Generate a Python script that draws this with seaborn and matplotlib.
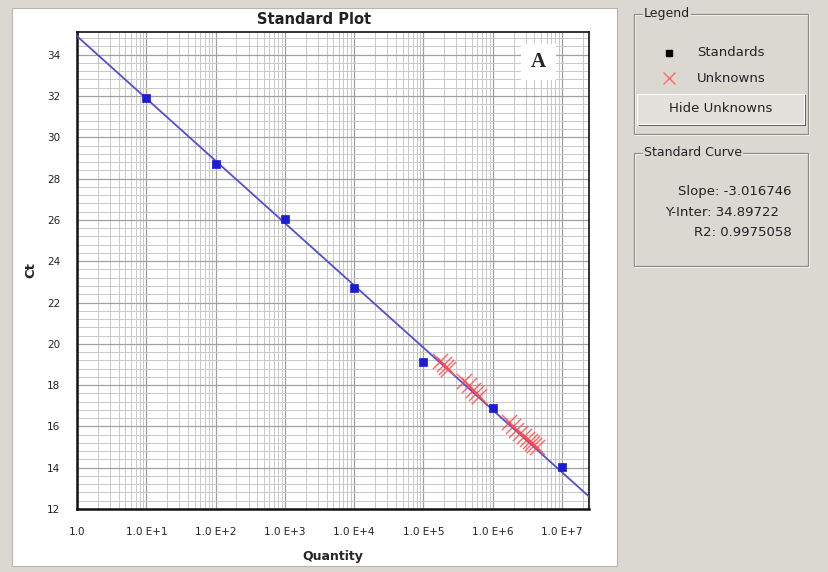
import numpy as np
import pandas as pd
import matplotlib
matplotlib.use("Agg")
import matplotlib.pyplot as plt
from matplotlib.patches import Rectangle
from matplotlib.ticker import FixedLocator, NullFormatter, MultipleLocator
import seaborn as sns

# ---------------- data ----------------
std_quantity = [1e1, 1e2, 1e3, 1e4, 1e5, 1e6, 1e7]
std_ct = [31.9, 28.7, 26.05, 22.7, 19.1, 16.9, 14.05]

unk_quantity = [1.75e5, 1.95e5, 2.1e5, 2.3e5,
                3.9e5, 4.5e5, 5.2e5, 5.8e5, 6.3e5,
                1.7e6, 1.95e6, 2.2e6, 2.5e6, 2.8e6, 3.1e6, 3.4e6, 3.7e6, 4.0e6, 4.4e6]
unk_ct = [19.15, 19.0, 18.9, 18.8,
          18.2, 18.0, 17.75, 17.6, 17.45,
          16.2, 16.0, 15.85, 15.7, 15.55, 15.4, 15.3, 15.2, 15.1, 15.0]

slope = -3.016746
y_inter = 34.89722
r2 = 0.9975058

x_tick_values = [1e0, 1e1, 1e2, 1e3, 1e4, 1e5, 1e6, 1e7]
x_tick_labels = ["1.0", "1.0 E+1", "1.0 E+2", "1.0 E+3", "1.0 E+4",
                 "1.0 E+5", "1.0 E+6", "1.0 E+7"]
y_tick_values = [12, 14, 16, 18, 20, 22, 24, 26, 28, 30, 32, 34]

# ---------------- figure ----------------
sns.set_style("white")
plt.rcParams['font.family'] = ['DejaVu Sans']

W, H = 829, 572
BG = "#dbd8d2"
fig = plt.figure(figsize=(W / 100, H / 100), dpi=100, facecolor=BG)


def fx(px):
    return px / W


def fy(py):
    return 1 - py / H


# white plot panel (behind axes)
fig.patches.append(Rectangle((fx(12), fy(566)), fx(617) - fx(12), fy(8) - fy(566),
                             transform=fig.transFigure, facecolor="white",
                             edgecolor="#b8b5ae", linewidth=0.8, zorder=-5))

ax = fig.add_axes([fx(77), fy(509), fx(589) - fx(77), fy(32) - fy(509)])
ax.set_zorder(1)
ax.set_facecolor("white")

xmin, xmax = 1.0, 10 ** 7.39
ymin, ymax = 12.0, 35.1

# grid
ax.set_xscale("log")
ax.set_xlim(xmin, xmax)
ax.set_ylim(ymin, ymax)
minor_x = [m * 10 ** e for e in range(0, 8) for m in range(2, 10) if m * 10 ** e < xmax]
ax.xaxis.set_major_locator(FixedLocator(x_tick_values))
ax.xaxis.set_minor_locator(FixedLocator(minor_x))
ax.xaxis.set_minor_formatter(NullFormatter())
ax.set_xticklabels(x_tick_labels)
ax.yaxis.set_major_locator(FixedLocator(y_tick_values))
ax.yaxis.set_minor_locator(MultipleLocator(0.4))
ax.grid(True, which="major", color="#a0a0a0", linewidth=0.9)
ax.grid(True, which="minor", color="#c8c8c8", linewidth=0.7)
ax.set_axisbelow(True)

# fit line
fit_x = np.logspace(np.log10(xmin), np.log10(xmax), 50)
fit_df = pd.DataFrame({"Quantity": fit_x, "Ct": y_inter + slope * np.log10(fit_x)})
sns.lineplot(data=fit_df, x="Quantity", y="Ct", ax=ax, color="#5050d0",
             linewidth=1.3, zorder=3)

# standards
std_df = pd.DataFrame({"Quantity": std_quantity, "Ct": std_ct})
sns.scatterplot(data=std_df, x="Quantity", y="Ct", ax=ax, marker="s", s=30,
                color="#1c1cd0", edgecolor="#1c1cd0", linewidth=0.5, zorder=5)

# unknowns
unk_df = pd.DataFrame({"Quantity": unk_quantity, "Ct": unk_ct})
sns.scatterplot(data=unk_df, x="Quantity", y="Ct", ax=ax, marker="x", s=120,
                color="#ff4a4a", linewidth=1.0, alpha=0.85, zorder=4)

ax.set_xlabel("Quantity", fontsize=9, fontweight="bold", labelpad=9)
ax.set_ylabel("Ct", fontsize=9.5, fontweight="bold", labelpad=7)
ax.set_title("")
fig.text(fx(314), fy(20), "Standard Plot", fontsize=10.5, fontweight="bold",
         ha="center", va="center", color="#222222")

ax.tick_params(axis="both", which="major", labelsize=7.5, colors="#222222",
               direction="out", length=4, width=0.8)
ax.tick_params(axis="x", which="major", pad=9)
ax.tick_params(axis="y", which="major", pad=8)
ax.tick_params(axis="x", which="minor", direction="out", length=3, width=0.5,
               color="#aaaaaa")
ax.tick_params(axis="y", which="minor", length=0)

for side in ["left", "bottom"]:
    ax.spines[side].set_linewidth(1.8)
    ax.spines[side].set_color("#111111")
for side in ["top", "right"]:
    ax.spines[side].set_linewidth(1.2)
    ax.spines[side].set_color("#111111")

# "A" label
fig.patches.append(Rectangle((fx(521), fy(80)), fx(556) - fx(521), fy(44) - fy(80),
                             transform=fig.transFigure, facecolor="white",
                             edgecolor="none", zorder=10))
fig.text(fx(538), fy(62), "A", fontsize=15, fontweight="bold",
         family=["Liberation Serif", "DejaVu Serif"], ha="center", va="center",
         zorder=11)

PF = 9.5


# ---------------- side panel ----------------
def group_box(x0, y0, x1, y1, label):
    fig.patches.append(Rectangle((fx(x0), fy(y1)), fx(x1) - fx(x0), fy(y0) - fy(y1),
                                 transform=fig.transFigure, facecolor="none",
                                 edgecolor="#8f8c86", linewidth=0.9, zorder=2))
    fig.patches.append(Rectangle((fx(x0 + 1), fy(y1 + 1)), fx(x1) - fx(x0), fy(y0) - fy(y1),
                                 transform=fig.transFigure, facecolor="none",
                                 edgecolor="white", linewidth=0.7, zorder=1))
    fig.text(fx(x0 + 10), fy(y0), label, fontsize=PF - 0.5, ha="left", va="center",
             color="#222222", zorder=5,
             bbox=dict(facecolor=BG, edgecolor="none", pad=1))


group_box(634, 14, 808, 134, "Legend")
group_box(634, 153, 808, 266, "Standard Curve")

# legend entries
fig.lines.append(plt.Line2D([fx(669)], [fy(53)], marker="s", markersize=5,
                            color="black", linestyle="none", transform=fig.transFigure))
fig.lines.append(plt.Line2D([fx(669)], [fy(78)], marker="x", markersize=8,
                            color="#ff6a6a", markeredgewidth=1.0, linestyle="none",
                            transform=fig.transFigure))
fig.text(fx(697), fy(53), "Standards", fontsize=PF, ha="left", va="center", color="#222222")
fig.text(fx(697), fy(78), "Unknowns", fontsize=PF, ha="left", va="center", color="#222222")

# button
fig.patches.append(Rectangle((fx(639), fy(126)), fx(806) - fx(639), fy(95) - fy(126),
                             transform=fig.transFigure, facecolor="#5a5852",
                             edgecolor="none", zorder=2))
fig.patches.append(Rectangle((fx(637), fy(124)), fx(804) - fx(637), fy(94) - fy(124),
                             transform=fig.transFigure, facecolor="#e4e1dc",
                             edgecolor="white", linewidth=0.8, zorder=3))
fig.text(fx(721), fy(109), "Hide Unknowns", fontsize=PF, ha="center", va="center",
         color="#222222", zorder=4)

# curve stats
fig.text(fx(792), fy(191), f"Slope: {slope:.6f}", fontsize=PF, ha="right", va="center",
         color="#222222")
fig.text(fx(779), fy(212), f"Y-Inter: {y_inter:.5f}", fontsize=PF, ha="right", va="center",
         color="#222222")
fig.text(fx(792), fy(233), f"R2: {r2:.7f}", fontsize=PF, ha="right", va="center",
         color="#222222")

fig.savefig("out.png", dpi=100, facecolor=BG)
